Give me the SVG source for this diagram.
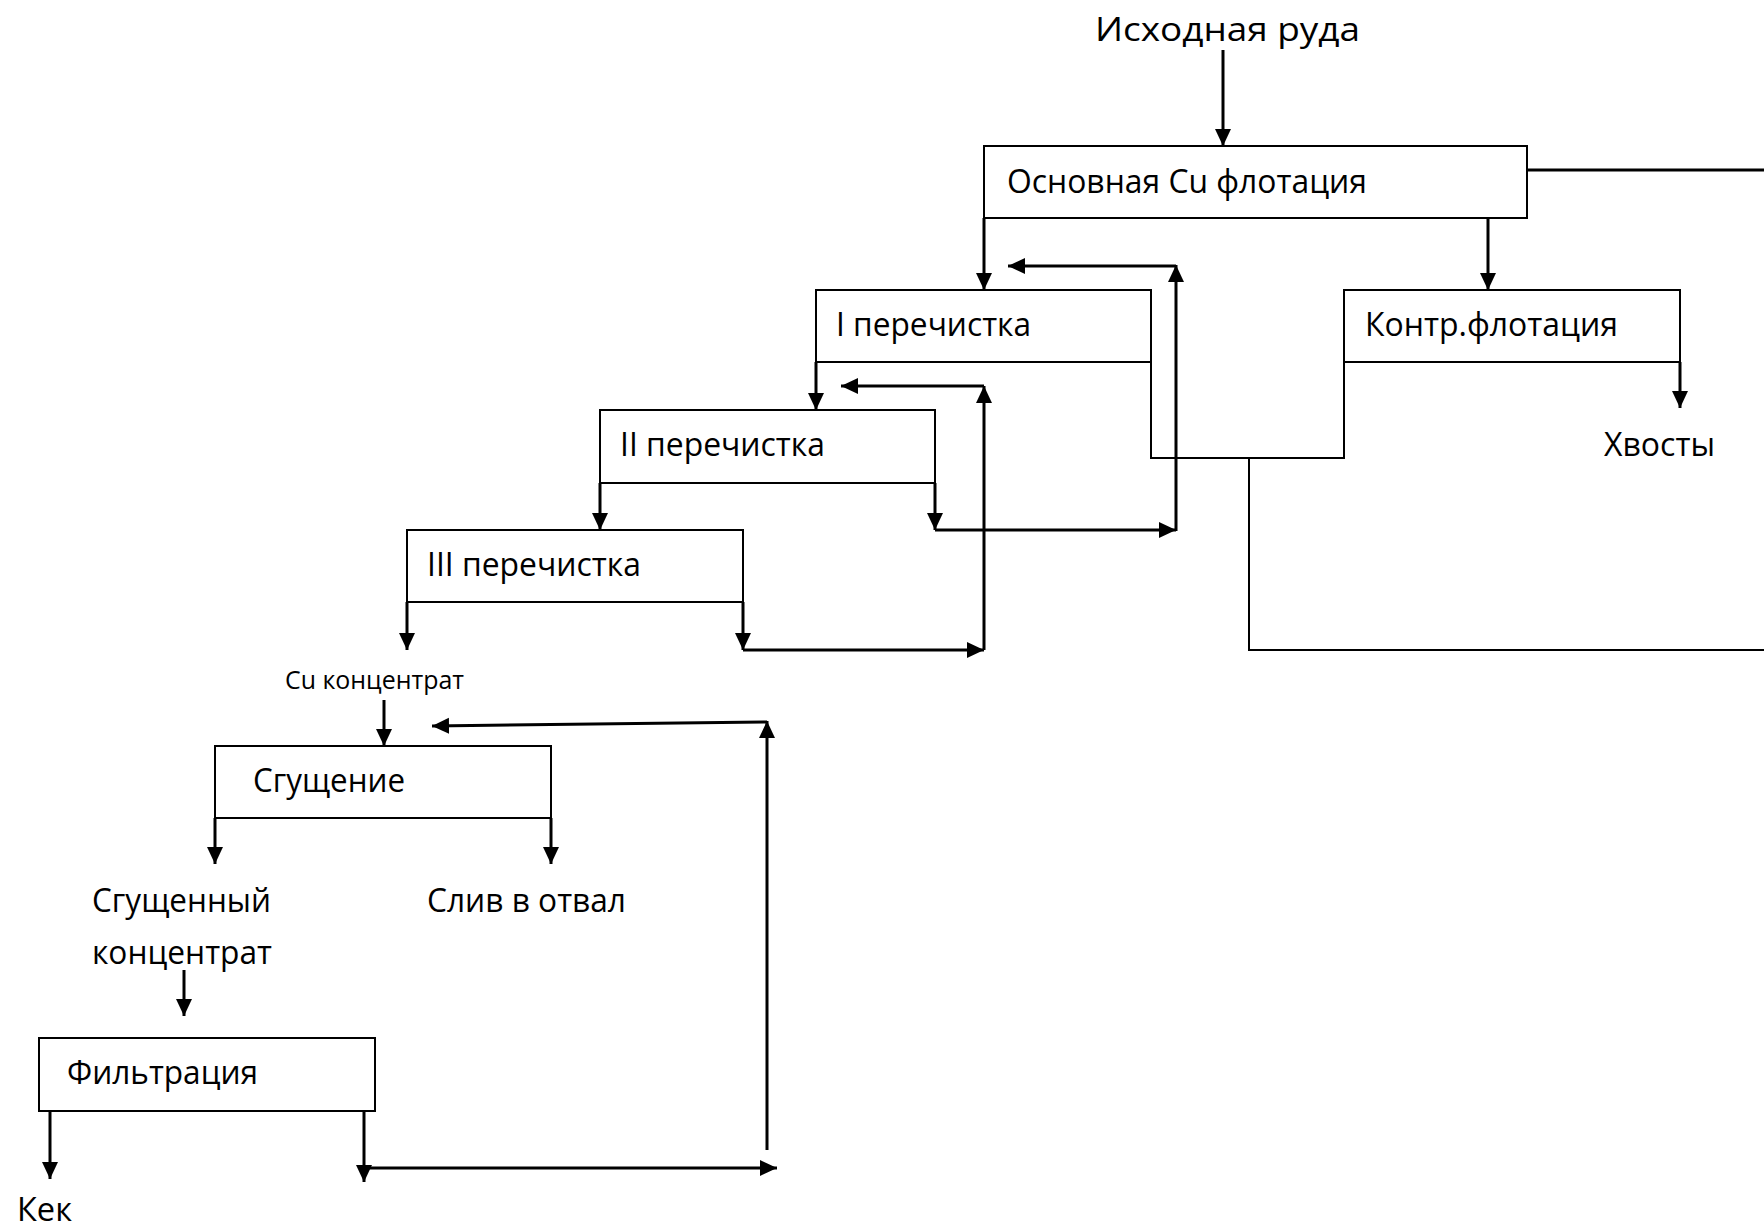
<svg xmlns="http://www.w3.org/2000/svg" width="1764" height="1232" viewBox="0 0 1764 1232">
<style>
.box{fill:#fff;stroke:#000;stroke-width:2}
.t{font-family:"Open Sans","Liberation Sans",sans-serif;font-size:33px;fill:#000}
.s{font-family:"Open Sans","Liberation Sans",sans-serif;font-size:25px;fill:#000}
.c{fill:none;stroke:#000;stroke-width:3}
.a{marker-end:url(#ah)}
.thin{fill:none;stroke:#000;stroke-width:2}
</style>
<defs>
<marker id="ah" markerUnits="userSpaceOnUse" markerWidth="18" markerHeight="17" refX="17" refY="8" orient="auto" viewBox="0 0 18 17">
<path d="M0,0 L17,8 L0,16 z" fill="#000"/>
</marker>
</defs>
<rect width="1764" height="1232" fill="#fff"/>
<g id="connectors">
<path class="c a" d="M1223,50 V146"/>
<path class="c" d="M1527,170 H1764"/>
<path class="c a" d="M984,218 V290"/>
<path class="c a" d="M1488,218 V290"/>
<path class="c a" d="M1176,531 V265"/>
<path class="c a" d="M1176,266 H1008"/>
<path class="c a" d="M935,483 V530"/>
<path class="c a" d="M935,530 H1176"/>
<path class="c a" d="M816,362 V410"/>
<path class="c a" d="M984,650 V386"/>
<path class="c a" d="M984,386 H841"/>
<path class="c a" d="M600,483 V530"/>
<path class="c a" d="M743,602 V650"/>
<path class="c a" d="M743,650 H984"/>
<path class="c a" d="M407,602 V650"/>
<path class="thin" d="M1151,362 V458 H1344 V362"/>
<path class="thin" d="M1249,458 V650 H1764"/>
<path class="c a" d="M1680,362 V408"/>
<path class="c a" d="M384,700 V746"/>
<path class="c a" d="M767,1150 V721"/>
<path class="c a" d="M767,722 L432,726"/>
<path class="c a" d="M215,818 V864"/>
<path class="c a" d="M551,818 V864"/>
<path class="c a" d="M184,970 V1016"/>
<path class="c a" d="M50,1111 V1179"/>
<path class="c a" d="M364,1111 V1182"/>
<path class="c a" d="M364,1168 H777"/>
</g>
<g id="label-ore"><text class="t" x="1095" y="41" textLength="265" lengthAdjust="spacingAndGlyphs">Исходная руда</text></g>
<g id="node-main"><rect class="box" x="984" y="146" width="543" height="72"/><text class="t" x="1007" y="193" textLength="360" lengthAdjust="spacingAndGlyphs">Основная Cu флотация</text></g>
<g id="node-clean1"><rect class="box" x="816" y="290" width="335" height="72"/><text class="t" x="836" y="336" textLength="195" lengthAdjust="spacingAndGlyphs">I перечистка</text></g>
<g id="node-control"><rect class="box" x="1344" y="290" width="336" height="72"/><text class="t" x="1365" y="336" textLength="253" lengthAdjust="spacingAndGlyphs">Контр.флотация</text></g>
<g id="label-tails"><text class="t" x="1604" y="456" textLength="111" lengthAdjust="spacingAndGlyphs">Хвосты</text></g>
<g id="node-clean2"><rect class="box" x="600" y="410" width="335" height="73"/><text class="t" x="620" y="456" textLength="205" lengthAdjust="spacingAndGlyphs">II перечистка</text></g>
<g id="node-clean3"><rect class="box" x="407" y="530" width="336" height="72"/><text class="t" x="427" y="576" textLength="214" lengthAdjust="spacingAndGlyphs">III перечистка</text></g>
<g id="label-cu"><text class="s" x="285" y="689" textLength="179" lengthAdjust="spacingAndGlyphs">Cu концентрат</text></g>
<g id="node-thicken"><rect class="box" x="215" y="746" width="336" height="72"/><text class="t" x="253" y="792" textLength="152" lengthAdjust="spacingAndGlyphs">Сгущение</text></g>
<g id="label-thickened"><text class="t" x="92" y="912" textLength="179" lengthAdjust="spacingAndGlyphs">Сгущенный</text><text class="t" x="92" y="964" textLength="180" lengthAdjust="spacingAndGlyphs">концентрат</text></g>
<g id="label-overflow"><text class="t" x="427" y="912" textLength="199" lengthAdjust="spacingAndGlyphs">Слив в отвал</text></g>
<g id="node-filter"><rect class="box" x="39" y="1038" width="336" height="73"/><text class="t" x="67" y="1084" textLength="191" lengthAdjust="spacingAndGlyphs">Фильтрация</text></g>
<g id="label-cake"><text class="t" x="17" y="1221" textLength="55" lengthAdjust="spacingAndGlyphs">Кек</text></g>
</svg>
